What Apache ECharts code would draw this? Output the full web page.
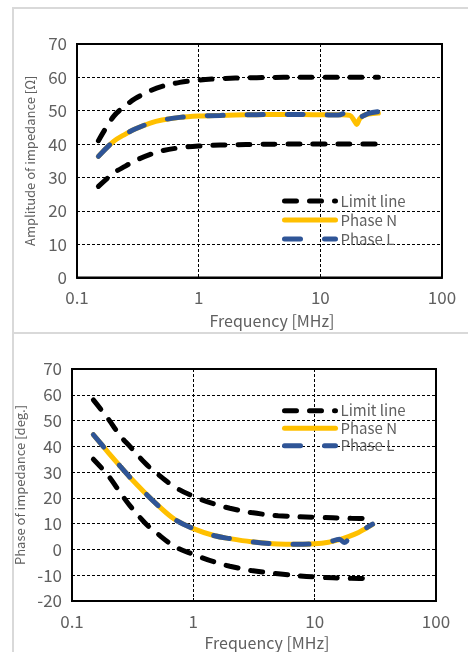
<!DOCTYPE html>
<html>
<head>
<meta charset="utf-8">
<script src="https://cdn.jsdelivr.net/npm/echarts@6/dist/echarts.min.js"></script>
<style>
html,body{margin:0;padding:0;background:#fff;}
#c{width:468px;height:652px;}
</style>
</head>
<body>
<div id="c"></div>
<script>
// ---------- DATA ----------
var xTickLabels = ['0.1', '1', '10', '100'];
var legendNames = ['Limit line', 'Phase N', 'Phase L'];

// Amplitude chart
var limitFreqA = [0.15, 0.2, 0.25, 0.3, 0.4, 0.5, 0.7, 1, 1.5, 2, 3, 5, 10, 20, 30];
var upperA = [41, 48.3, 51.5, 53.6, 56, 57.3, 58.5, 59.2, 59.6, 59.8, 59.9, 60, 60, 60, 60];
var lowerA = [27.3, 31.3, 33.4, 35, 36.9, 38, 38.9, 39.4, 39.7, 39.8, 39.9, 40, 40, 40, 40];
var freqNA = [0.15, 0.2, 0.25, 0.3, 0.4, 0.5, 0.7, 1, 1.5, 2, 3, 5, 10, 15, 17.5, 19, 19.9, 21, 22.5, 25, 30];
var phaseNA = [36.3, 40.8, 43, 44.5, 46.3, 47.2, 48, 48.4, 48.6, 48.7, 48.8, 48.9, 48.8, 48.8, 48.6, 47, 45.9, 47.5, 48.5, 49, 49.3];
var freqLA = [0.15, 0.2, 0.25, 0.3, 0.4, 0.5, 0.7, 1, 1.5, 2, 3, 5, 10, 14, 15.5, 17, 18.5, 20, 22, 25, 30];
var phaseLA = [36.3, 40.8, 43, 44.5, 46.3, 47.2, 48, 48.4, 48.6, 48.7, 48.8, 48.9, 48.8, 48.7, 49.2, 50.2, 48.5, 47.9, 48.3, 49.2, 49.7];

// Phase chart
var limitFreqP = [0.15, 0.2, 0.25, 0.3, 0.4, 0.5, 0.7, 1, 1.5, 2, 3, 5, 10, 20, 30];
var upperP = [58, 50.5, 44, 40, 33.5, 29.5, 24.3, 20.6, 17.6, 16, 14.3, 13.1, 12.5, 12.1, 11.9];
var lowerP = [35, 28.5, 22, 17, 10.3, 6.3, 1.2, -1.9, -4.9, -6.5, -8.2, -9.4, -10.7, -11.2, -11.3];
var freqNP = [0.15, 0.2, 0.25, 0.3, 0.4, 0.5, 0.7, 1, 1.5, 2, 3, 5, 7, 10, 13, 16, 19, 23, 26, 30];
var phaseNP = [44.5, 37.5, 32.2, 28, 21.9, 17.5, 11.7, 8.1, 5.3, 4.2, 3.0, 2.1, 2.0, 2.2, 2.8, 3.8, 5.0, 6.6, 8, 9.7];
var freqLP = [0.15, 0.2, 0.25, 0.3, 0.4, 0.5, 0.7, 1, 1.5, 2, 3, 5, 7, 10, 13, 16, 17.5, 19.5, 22, 26, 30];
var phaseLP = [44.5, 37.5, 32.2, 28, 21.9, 17.5, 11.7, 8.1, 5.3, 4.2, 3.0, 2.1, 2.0, 2.2, 2.8, 4.0, 2.7, 4.4, 5.8, 8, 9.8];

// ---------- CHART ----------
function pairs(xs, ys) { return xs.map(function (x, i) { return [x, ys[i]]; }); }

var FONT = '"Noto Sans CJK JP", "Noto Sans", sans-serif';
var GREY = '#606060';
var YELLOW = '#FFC000';
var BLUE = '#2F5597';

function xAxis(gridIndex, padLeft, gap) {
  return {
    type: 'log', logBase: 10, min: 0.1, max: 100, gridIndex: gridIndex,
    name: 'Frequency [MHz]', nameLocation: 'middle', nameGap: gap,
    nameTextStyle: { color: GREY, fontSize: 16, fontFamily: FONT, padding: [0, 0, 0, padLeft] },
    axisLine: { show: true, onZero: false, lineStyle: { color: '#000', width: 2 } },
    axisTick: { show: true, inside: true, length: 3, lineStyle: { color: '#000' } },
    minorTick: { show: false },
    axisLabel: {
      color: GREY, fontSize: 17, fontFamily: FONT, margin: 12,
      formatter: function (v) {
        var e = Math.round(Math.log10(v));
        return xTickLabels[e + 1];
      }
    },
    splitLine: { show: true, lineStyle: { color: '#000', width: 1, type: [3, 2] } }
  };
}
function yAxis(gridIndex, name, min, max) {
  return {
    type: 'value', min: min, max: max, interval: 10, gridIndex: gridIndex,
    name: name, nameLocation: 'middle', nameGap: 40,
    nameTextStyle: { color: GREY, fontSize: 13, fontFamily: FONT },
    axisLine: { show: true, onZero: false, lineStyle: { color: '#000', width: 2 } },
    axisTick: { show: true, inside: true, length: 3, lineStyle: { color: '#000' } },
    axisLabel: { color: GREY, fontSize: 17, fontFamily: FONT, margin: 10 },
    splitLine: { show: true, lineStyle: { color: '#000', width: 1, type: [3, 2] } }
  };
}
var limitStyle = { color: '#000', width: 5, type: [12, 13], cap: 'round' };
var nStyle = { color: YELLOW, width: 5, type: 'solid', cap: 'round' };
var lStyle = { color: BLUE, width: 5, type: [16, 24], cap: 'round' };

function s(name, xi, data, style, z) {
  return {
    name: name, type: 'line', xAxisIndex: xi, yAxisIndex: xi, data: data,
    showSymbol: false, symbol: 'none', smooth: 0.35, lineStyle: style,
    itemStyle: { color: style.color }, z: z, silent: true, animation: false
  };
}

function legend(top, lh) {
  return {
    data: legendNames, orient: 'vertical', left: 282, top: top, padding: 0,
    itemWidth: 51, itemHeight: 14, itemGap: 0,
    textStyle: { color: GREY, fontSize: 15, fontFamily: FONT, lineHeight: lh, height: lh },
    itemStyle: { opacity: 0 },
    lineStyle: { width: 5 }
  };
}

var option = {
  animation: false,
  backgroundColor: '#fff',
  textStyle: { fontFamily: FONT },
  graphic: [
    { type: 'rect', shape: { x: 13, y: 8, width: 470, height: 325 }, style: { fill: 'none', stroke: '#d9d9d9', lineWidth: 2 }, z: -10 },
    { type: 'rect', shape: { x: 13, y: 333, width: 470, height: 330 }, style: { fill: 'none', stroke: '#d9d9d9', lineWidth: 2 }, z: -10 }
  ],
  grid: [
    { left: 77, top: 44, width: 365, height: 233.5, show: true, borderColor: '#000', borderWidth: 2, backgroundColor: 'transparent' },
    { left: 72, top: 369, width: 364, height: 233, show: true, borderColor: '#000', borderWidth: 2, backgroundColor: 'transparent' }
  ],
  legend: [legend(191.5, 19), legend(402, 17.5)],
  xAxis: [xAxis(0, 25, 35), xAxis(1, 26, 34)],
  yAxis: [yAxis(0, 'Amplitude of impedance [Ω]', 0, 70), yAxis(1, 'Phase of impedance [deg.]', -20, 70)],
  series: [
    s('Limit line', 0, pairs(limitFreqA, upperA), limitStyle, 2),
    s('Limit line', 0, pairs(limitFreqA, lowerA), limitStyle, 2),
    s('Phase N', 0, pairs(freqNA, phaseNA), nStyle, 3),
    s('Phase L', 0, pairs(freqLA, phaseLA), lStyle, 4),
    s('Limit line', 1, pairs(limitFreqP, upperP), limitStyle, 2),
    s('Limit line', 1, pairs(limitFreqP, lowerP), limitStyle, 2),
    s('Phase N', 1, pairs(freqNP, phaseNP), nStyle, 3),
    s('Phase L', 1, pairs(freqLP, phaseLP), lStyle, 4)
  ]
};
var chart = echarts.init(document.getElementById('c'), null, { renderer: 'canvas' });
chart.setOption(option);
</script>
</body>
</html>
